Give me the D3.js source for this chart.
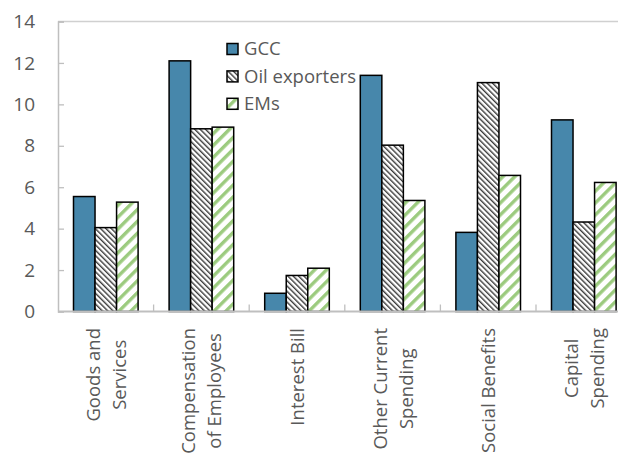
<!DOCTYPE html>
<html><head><meta charset="utf-8">
<script src="https://cdn.jsdelivr.net/npm/d3@7"></script>
<style>
html,body{margin:0;padding:0;background:#fff;}
svg{display:block;}
text{font-family:"Open Sans","Noto Sans",sans-serif;fill:#595959;}
</style></head>
<body>
<svg id="c" width="618" height="462"></svg>
<script>
const categories = [["Goods and","Services"],["Compensation","of Employees"],["Interest Bill"],["Other Current","Spending"],["Social Benefits"],["Capital","Spending"]];
const seriesNames = ["GCC","Oil exporters","EMs"];
const gcc = [5.55, 12.1, 0.88, 11.4, 3.82, 9.25];
const oil = [4.05, 8.82, 1.74, 8.03, 11.05, 4.32];
const ems = [5.28, 8.9, 2.09, 5.36, 6.57, 6.23];
const yTicks = [0,2,4,6,8,10,12,14];

const svg = d3.select("#c");
const defs = svg.append("defs");
function stripe(id, color, period, width, angle){
  const p = defs.append("pattern").attr("id",id).attr("patternUnits","userSpaceOnUse")
    .attr("width",period).attr("height",period).attr("patternTransform",`rotate(${angle})`);
  p.append("rect").attr("width",period).attr("height",period).attr("fill","#fff");
  p.append("rect").attr("x",0).attr("y",0).attr("width",width).attr("height",period).attr("fill",color);
}
stripe("pOil","#3a3a3a",3.8,1.4,-45);
stripe("pEms","#9ccb7f",8.4,3.4,45);
const fills = ["#4787ab","url(#pOil)","url(#pEms)"];

const x0 = 58, x1 = 631.6, yb = 311.5, yt = 21.5;
const x = d3.scaleBand().domain(d3.range(categories.length)).range([x0,x1]).padding(0);
const xs = d3.scaleBand().domain(d3.range(3)).range([15.5, x.bandwidth()-15.5]).padding(0);
const y = d3.scaleLinear().domain([0,14]).range([yb,yt]);
const fs = "18.5px";

// top border
svg.append("line").attr("x1",x0).attr("x2",618).attr("y1",yt).attr("y2",yt).attr("stroke","#d0d0d0").attr("stroke-width",1.3);

// y axis
const ya = svg.append("g").attr("transform",`translate(${x0},0)`)
  .call(d3.axisLeft(y).tickValues(yTicks).tickSize(-6).tickPadding(23));
ya.select(".domain").attr("stroke","#bfbfbf").attr("stroke-width",1.5);
ya.selectAll(".tick line").attr("stroke","#bfbfbf").attr("stroke-width",1.3);
ya.selectAll(".tick text").attr("font-size","19px").attr("fill","#595959").attr("font-family","'Open Sans',sans-serif");

// bars
const series = [gcc, oil, ems];
series.forEach((vals, s) => {
  svg.append("g").selectAll("rect").data(vals).join("rect")
    .attr("x",(d,i)=>x(i)+xs(s))
    .attr("y",d=>y(d))
    .attr("width",xs.bandwidth())
    .attr("height",d=>y(0)-y(d))
    .attr("fill",fills[s])
    .attr("stroke","#000").attr("stroke-width",1.5);
});

// x axis
const xa = svg.append("g").attr("transform",`translate(0,${yb})`);
xa.append("line").attr("x1",x0).attr("x2",618).attr("y1",0).attr("y2",0).attr("stroke","#bfbfbf").attr("stroke-width",2);
xa.selectAll("line.t").data(d3.range(1,categories.length)).join("line").attr("class","t")
  .attr("x1",i=>x(i)).attr("x2",i=>x(i)).attr("y1",0).attr("y2",-7).attr("stroke","#bfbfbf").attr("stroke-width",1.3);

// category labels (rotated)
const lh = 26, topY = 328;
categories.forEach((lines,i) => {
  const cx = x(i)+x.bandwidth()/2;
  const g = svg.append("g");
  const texts = lines.map((t,k)=> g.append("text").text(t).attr("font-size",fs).attr("text-anchor","middle"));
  const L = d3.max(texts, t=>t.node().getComputedTextLength());
  const n = lines.length;
  texts.forEach((t,k)=>{
    const off = (k-(n-1)/2)*lh;
    const px = cx + off + 7;
    const py = topY + L/2;
    t.attr("transform",`translate(${px},${py}) rotate(-90)`);
  });
});

// legend
const lg = svg.append("g");
seriesNames.forEach((name,k)=>{
  const cy = 49 + k*27.4;
  lg.append("rect").attr("x",227).attr("y",cy-5.5).attr("width",11).attr("height",11)
    .attr("fill",fills[k]).attr("stroke","#000").attr("stroke-width",1.5);
  lg.append("text").attr("x",244).attr("y",cy).attr("dy","0.35em").attr("font-size",fs).text(name);
});
</script>
</body></html>
